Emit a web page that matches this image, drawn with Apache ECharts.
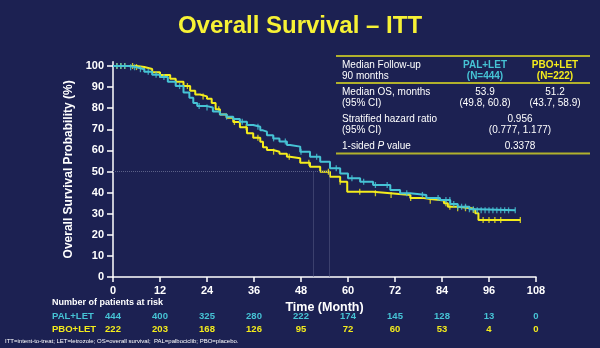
<!DOCTYPE html>
<html><head><meta charset="utf-8">
<script src="https://cdn.jsdelivr.net/npm/echarts@6/dist/echarts.min.js"></script>
<style>html,body{margin:0;padding:0;background:#1c2152;}#c{width:600px;height:348px;}</style>
</head><body><div id="c"></div>
<script>
// ---- data ----
const xTicks = [0, 12, 24, 36, 48, 60, 72, 84, 96, 108];
const yTicks = [0, 10, 20, 30, 40, 50, 60, 70, 80, 90, 100];
const palTime = [0,2,4,6,8,10,12,14,16,18,19.5,20.5,21.5,24,25.5,27.3,29,30.7,32.4,34.2,35.8,37.6,38.3,39.3,40.9,42.5,44.4,45.2,47.8,50.3,52.9,55.4,58,60,63.1,66.4,70.8,73.3,75.9,80,83.5,86.1,88,91,93,102.7];
const palSurv = [100,100,99.4,98.5,97.3,95.9,94.8,92.6,90.5,87.5,85,82.5,81,80.3,78.5,77,76,74.9,73.6,72,71.2,69.5,68.9,67.2,65.7,64.2,62.6,61.8,59.4,57,54.6,51.5,49.1,46.8,45.2,43.6,41.2,39.7,38.9,37.5,36.5,34.6,33.3,32.1,31.6,31.6];
const pboTime = [0,3,6,8,10,12,14.6,16,18,19.7,21,22.2,24,25.2,26.2,27.3,29,30.7,32.4,34.2,35.8,37.6,38.3,39.3,40.9,42.5,44.4,45.2,47.8,50.3,52.9,55.4,58,59.8,66.4,70.8,75.9,79,81,84.5,85.5,88,91.5,92.5,93.3,104];
const pboSurv = [100,100,99.5,98.6,97,95.8,94,92.5,90.5,88.3,86.5,85.6,84.5,82.5,79.5,77,75.5,73.5,71,68.1,66,64.1,61.5,60.2,59.4,58.4,57,56.3,54.2,52.3,49.9,47.5,45.2,40.4,39.7,38.9,37.5,37,36.2,34.9,33.3,32.6,31.8,30.2,27,27];
const palCensor = [1,2,3,4.5,5.5,7,9,11,13,17,22,24,29,33,37,41,44,48,52,57,61,64,67,70,75,79,83,85,86,87,88,89,90,91,92,93,94,95,96,97,98,99,100,101,102.7];
const pboCensor = [1,2,3,5,6,8,12,16,19,23,27,31,34,37,41,45,50,55,58,63,67,71,76,81,85,86,88,90,92,94.5,96,97.5,99,104];
const medianPal = 55.3, medianPbo = 51.2;
const riskPal = [444, 400, 325, 280, 222, 174, 145, 128, 13, 0];
const riskPbo = [222, 203, 168, 126, 95, 72, 60, 53, 4, 0];

const CYAN = '#46c3d5', YEL = '#f4ec1c', BG = '#1c2152', OLIVE = '#b1b12c';
const FONT = 'Liberation Sans, Arial, sans-serif';

function survAt(times, surv, t) {
  let s = surv[0];
  for (let i = 0; i < times.length; i++) { if (times[i] <= t) s = surv[i]; }
  return s;
}
const pairs = (a, b) => a.map((v, i) => [v, b[i]]);
const censorPts = (c, times, surv) => c.map(t => [t, survAt(times, surv, t)]);

const chart = echarts.init(document.getElementById('c'));
const option = {
  backgroundColor: BG,
  animation: false,
  title: {
    text: 'Overall Survival – ITT', left: 'center', top: 9,
    textStyle: { color: '#f7f235', fontSize: 24, fontWeight: 'bold', fontFamily: 'Liberation Sans Narrow, Arial Narrow, sans-serif' }
  },
  grid: { left: 113, right: 64, top: 61.8, bottom: 71 },
  xAxis: {
    type: 'value', min: 0, max: 108, interval: 12,
    name: 'Time (Month)', nameLocation: 'middle', nameGap: 19,
    nameTextStyle: { color: '#fff', fontSize: 12.5, fontWeight: 'bold', fontFamily: FONT },
    axisLine: { lineStyle: { color: '#fff', width: 1.5 } },
    axisTick: { show: true, length: 5, lineStyle: { color: '#fff', width: 1.5 } },
    axisLabel: { color: '#fff', fontSize: 11, fontWeight: 'bold', fontFamily: FONT, margin: 8 },
    splitLine: { show: false }
  },
  yAxis: {
    type: 'value', min: 0, max: 102,
    name: 'Overall Survival Probability (%)', nameLocation: 'middle', nameGap: 38,
    nameTextStyle: { color: '#fff', fontSize: 12, fontWeight: 'bold', fontFamily: FONT },
    axisLine: { show: true, lineStyle: { color: '#fff', width: 1.5 } },
    axisTick: { show: true, length: 6, customValues: yTicks, lineStyle: { color: '#fff', width: 1.5 } },
    axisLabel: { color: '#fff', fontSize: 11, fontWeight: 'bold', fontFamily: FONT, margin: 9, customValues: yTicks },
    splitLine: { show: false }
  },
  series: [
    {
      type: 'line', step: 'end', data: pairs(pboTime, pboSurv), showSymbol: false,
      lineStyle: { color: YEL, width: 2 }, z: 3,
      markLine: {
        silent: true, symbol: 'none', label: { show: false },
        lineStyle: { color: '#5b6188', type: 'dotted', width: 1 },
        data: [
          [{ coord: [0, 50] }, { coord: [medianPal, 50] }],
          [{ coord: [medianPbo, 50] }, { coord: [medianPbo, 0] }],
          [{ coord: [medianPal, 50] }, { coord: [medianPal, 0] }]
        ]
      }
    },
    {
      type: 'line', step: 'end', data: pairs(palTime, palSurv), showSymbol: false,
      lineStyle: { color: CYAN, width: 2 }, z: 4
    },
    {
      type: 'scatter', data: censorPts(pboCensor, pboTime, pboSurv), symbol: 'rect', symbolSize: [1.3, 6],
      itemStyle: { color: YEL }, z: 3
    },
    {
      type: 'scatter', data: censorPts(palCensor, palTime, palSurv), symbol: 'rect', symbolSize: [1.3, 6],
      itemStyle: { color: CYAN }, z: 4
    }
  ]
};
chart.setOption(option);

// ---- graphic: table + risk table ----
const g = [];
const txt = (x, y, s, opt) => g.push({ type: 'text', x: x, y: y, style: Object.assign({ text: s, fill: '#fff', fontSize: 10, fontFamily: FONT, textVerticalAlign: 'middle', verticalAlign: 'middle' }, opt || {}) });
const hline = (y) => g.push({ type: 'line', shape: { x1: 336, y1: y, x2: 590, y2: y }, style: { stroke: OLIVE, lineWidth: 2 } });
hline(56); hline(83); hline(153.5);
const L = 342, C1 = 485, C2 = 555, CM = 520;
txt(L, 65, 'Median Follow-up'); txt(L, 76, '90 months');
txt(C1, 65, 'PAL+LET', { fill: CYAN, fontWeight: 'bold', align: 'center', textAlign: 'center' });
txt(C1, 76, '(N=444)', { fill: CYAN, fontWeight: 'bold', align: 'center', textAlign: 'center' });
txt(C2, 65, 'PBO+LET', { fill: YEL, fontWeight: 'bold', align: 'center', textAlign: 'center' });
txt(C2, 76, '(N=222)', { fill: YEL, fontWeight: 'bold', align: 'center', textAlign: 'center' });
txt(L, 92.5, 'Median OS, months'); txt(L, 103.5, '(95% CI)');
txt(C1, 92.5, '53.9', { align: 'center', textAlign: 'center' });
txt(C1, 103.5, '(49.8, 60.8)', { align: 'center', textAlign: 'center' });
txt(C2, 92.5, '51.2', { align: 'center', textAlign: 'center' });
txt(C2, 103.5, '(43.7, 58.9)', { align: 'center', textAlign: 'center' });
txt(L, 119.5, 'Stratified hazard ratio'); txt(L, 130.5, '(95% CI)');
txt(CM, 119.5, '0.956', { align: 'center', textAlign: 'center' });
txt(CM, 130.5, '(0.777, 1.177)', { align: 'center', textAlign: 'center' });
g.push({ type: 'text', x: L, y: 146.5, style: { rich: { a: { fill: '#fff', fontSize: 10, fontFamily: FONT }, b: { fill: '#fff', fontSize: 10, fontStyle: 'italic', fontFamily: FONT } }, text: '{a|1-sided }{b|P}{a| value}', verticalAlign: 'middle', textVerticalAlign: 'middle' } });
txt(CM, 146.5, '0.3378', { align: 'center', textAlign: 'center' });

txt(52, 302.5, 'Number of patients at risk', { fontWeight: 'bold', fontSize: 9 });
txt(52, 316.5, 'PAL+LET', { fill: CYAN, fontWeight: 'bold', fontSize: 9.5 });
txt(52, 329.5, 'PBO+LET', { fill: YEL, fontWeight: 'bold', fontSize: 9.5 });
xTicks.forEach((t, i) => {
  const px = chart.convertToPixel({ xAxisIndex: 0 }, t);
  txt(px, 316.5, String(riskPal[i]), { fill: CYAN, fontWeight: 'bold', fontSize: 9.5, align: 'center', textAlign: 'center' });
  txt(px, 329.5, String(riskPbo[i]), { fill: YEL, fontWeight: 'bold', fontSize: 9.5, align: 'center', textAlign: 'center' });
});
txt(5, 341.5, 'ITT=intent-to-treat; LET=letrozole; OS=overall survival;  PAL=palbociclib; PBO=placebo.', { fontSize: 6 });
chart.setOption({ graphic: g });
</script></body></html>
